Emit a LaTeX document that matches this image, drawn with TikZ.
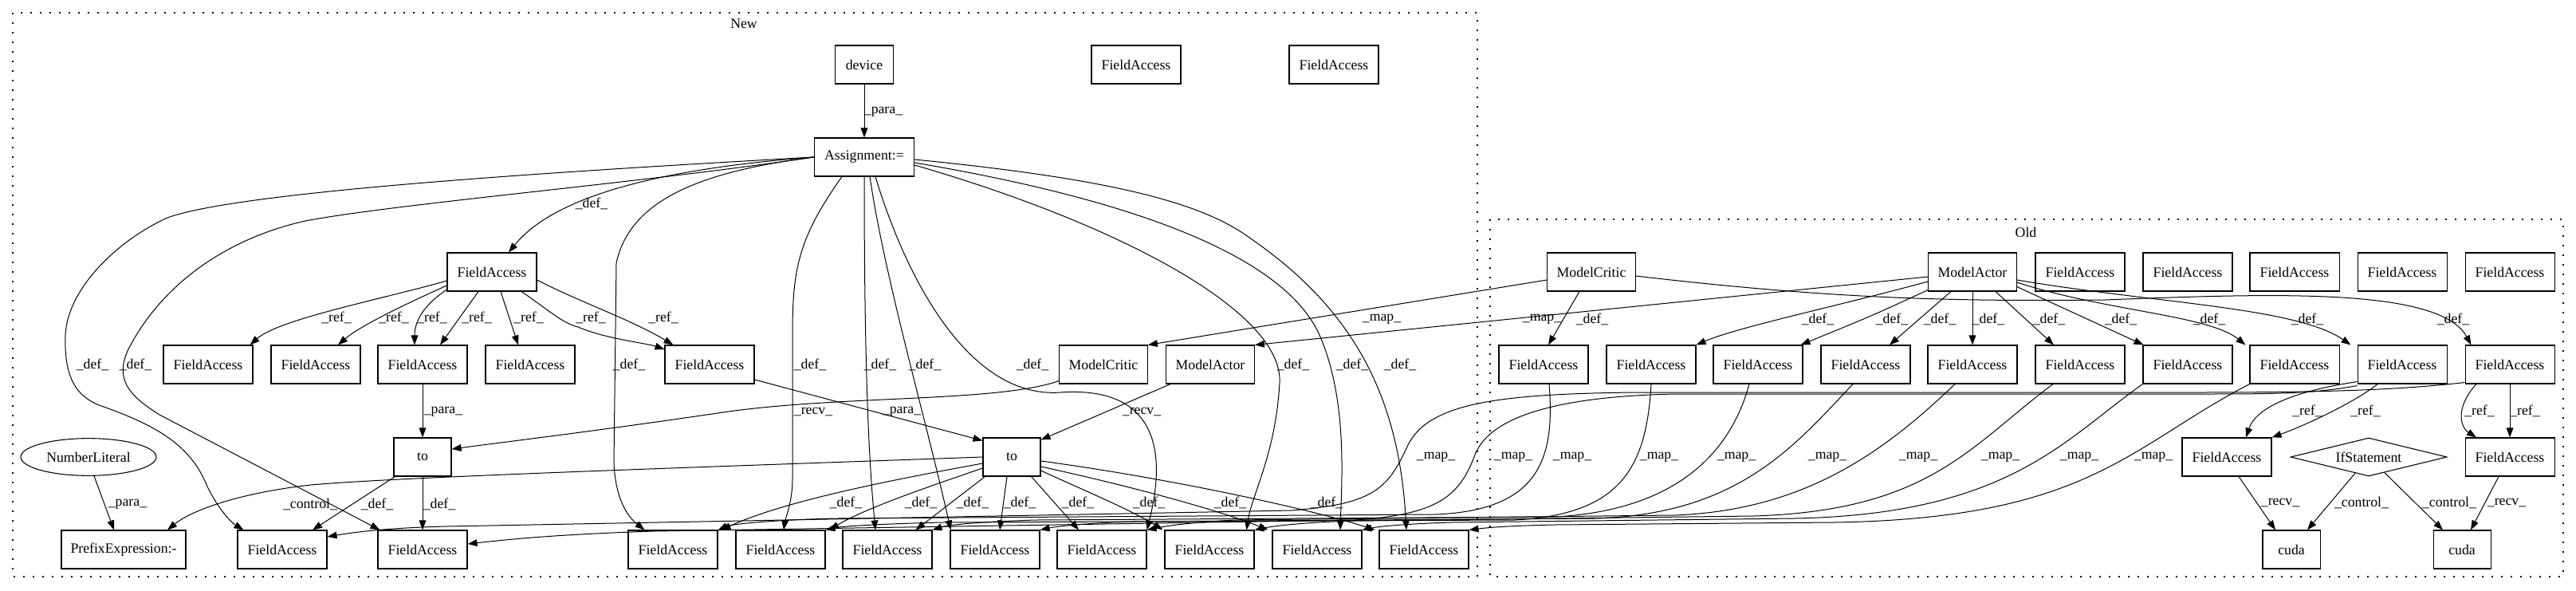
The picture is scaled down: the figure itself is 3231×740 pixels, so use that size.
\documentclass[tikz,border=0pt]{standalone}
\usepackage{fontspec}
\setmainfont{Liberation Serif}
\usetikzlibrary{arrows.meta,calc,shapes.geometric}
\begin{document}
\begin{tikzpicture}[x=0.75pt,y=-0.75pt,
 every node/.style={font=\fontsize{13.3}{15}\selectfont},
 box/.style={draw,line width=0.8pt,rectangle,minimum height=36pt,inner sep=0pt,minimum width=84pt},
 fa/.style={box},
 e/.style={-{Triangle[length=9pt,width=6.5pt]},line width=0.75pt},
 lbl/.style={inner sep=0pt},
 clus/.style={draw,line width=0.9pt,dash pattern=on 1.5pt off 7.5pt}]
\useasboundingbox (0,0) rectangle (3231,740);
% clusters
\draw[clus] (16,16) rectangle (1853,723);
\node[lbl] (newl) at (933,30) {New};
\draw[clus] (1869,275) rectangle (3215,723);
\node[lbl] (oldl) at (2541,291) {Old};
% ---------- New nodes
\node[box,minimum width=55pt] (device) at (1084,81) {device};
\node[fa] (nt1) at (1425,81) {FieldAccess};
\node[fa] (nt2) at (1673,81) {FieldAccess};
\node[box,minimum width=94pt] (asg) at (1084,197) {Assignment:=};
\node[fa] (FAp) at (617,341) {FieldAccess};
\node[fa] (r1) at (261,457) {FieldAccess};
\node[fa] (r2) at (396,457) {FieldAccess};
\node[fa] (r3) at (530,457) {FieldAccess};
\node[fa] (r4) at (665,457) {FieldAccess};
\node[fa] (r5) at (890,457) {FieldAccess};
\node[box,minimum width=83pt] (mcN) at (1384,457) {ModelCritic};
\node[box,minimum width=83pt] (maN) at (1518,457) {ModelActor};
\node[box,minimum width=54pt] (to1) at (530,573) {to};
\node[box,minimum width=54pt] (to2) at (1269,573) {to};
\node[draw,ellipse,line width=0.8pt,minimum width=127.5pt,minimum height=35pt,inner sep=0pt] (numlit) at (111,573) {NumberLiteral};
\node[box,minimum width=117pt] (prefix) at (155,689) {PrefixExpression:-};
\node[fa] (b1) at (354,689) {FieldAccess};
\node[fa] (b2) at (530,689) {FieldAccess};
\node[fa] (b3) at (844,689) {FieldAccess};
\node[fa] (b4) at (979,689) {FieldAccess};
\node[fa] (b5) at (1113,689) {FieldAccess};
\node[fa] (b6) at (1248,689) {FieldAccess};
\node[fa] (b7) at (1382,689) {FieldAccess};
\node[fa] (b8) at (1517,689) {FieldAccess};
\node[fa] (b9) at (1652,689) {FieldAccess};
\node[fa] (b10) at (1786,689) {FieldAccess};
% ---------- Old nodes
\node[box,minimum width=83pt] (mcO) at (1996,341) {ModelCritic};
\node[box,minimum width=83pt] (maO) at (2474,341) {ModelActor};
\node[fa] (ot1) at (2609,341) {FieldAccess};
\node[fa] (ot2) at (2744,341) {FieldAccess};
\node[fa] (ot3) at (2878,341) {FieldAccess};
\node[fa] (ot4) at (3013,341) {FieldAccess};
\node[fa] (ot5) at (3148,341) {FieldAccess};
\node[fa] (o1) at (1936,457) {FieldAccess};
\node[fa] (o2) at (2071,457) {FieldAccess};
\node[fa] (o3) at (2205,457) {FieldAccess};
\node[fa] (o4) at (2340,457) {FieldAccess};
\node[fa] (o5) at (2474,457) {FieldAccess};
\node[fa] (o6) at (2609,457) {FieldAccess};
\node[fa] (o7) at (2744,457) {FieldAccess};
\node[fa] (o8) at (2878,457) {FieldAccess};
\node[fa] (o9) at (3013,457) {FieldAccess};
\node[fa] (o10) at (3148,457) {FieldAccess};
\node[fa] (ofa1) at (2793,573) {FieldAccess};
\node[draw,diamond,aspect=4,line width=0.8pt,minimum width=147pt,minimum height=36pt,inner sep=0pt] (ifs) at (2971,573) {IfStatement};
\node[fa] (ofa2) at (3148,573) {FieldAccess};
\node[box,minimum width=54pt] (cuda1) at (2874,689) {cuda};
\node[box,minimum width=54pt] (cuda2) at (3088,689) {cuda};
% ---------- New edges
\draw[e] (device) -- (asg) node[lbl] at (1108,140) {\_para\_};
\draw[e] (asg.west) .. controls (850,210) and (700,240) .. ($(FAp.north)+(21,0)$) node[lbl] at (742,255) {\_def\_};
\draw[e] (asg.west) .. controls (700,215) and (300,240) .. (210,273) .. controls (150,300) and (85,360) .. (82,420) .. controls (80,480) and (100,500) .. (130,510) .. controls (200,535) and (240,560) .. (260,610) .. controls (275,640) and (290,655) .. ($(b1.north west)+(8,0)$) node[lbl] at (116,457) {\_def\_};
\draw[e] (asg.west) .. controls (800,230) and (500,255) .. (383,277) .. controls (280,300) and (200,360) .. (160,440) .. controls (145,475) and (160,495) .. (200,520) -- ($(b2.north west)+(3,0)$) node[lbl] at (170,457) {\_def\_};
\draw[e] (asg.west) .. controls (880,215) and (790,250) .. (773,330) -- (770,580) .. controls (772,630) and (790,650) .. ($(b3.north west)+(21,0)$) node[lbl] at (789,457) {\_def\_};
\draw[e] ($(asg.south)+(-28,0)$) .. controls (1000,300) and (994,340) .. (994,420) -- (994,600) .. controls (994,630) and (985,650) .. ($(b4.north)+(4,0)$) node[lbl] at (1016,457) {\_def\_};
\draw[e] (asg.south) .. controls (1084,500) and (1092,600) .. ($(b5.north)+(-15,0)$) node[lbl] at (1104,457) {\_def\_};
\draw[e] ($(asg.south)+(7,0)$) .. controls (1110,350) and (1160,520) .. ($(b6.north west)+(1,0)$) node[lbl] at (1160,457) {\_def\_};
\draw[e] ($(asg.south)+(14,0)$) .. controls (1140,360) and (1220,500) .. (1330,492) .. controls (1430,485) and (1470,540) .. (b7.north east) node[lbl] at (1295,457) {\_def\_};
\draw[e] ($(asg.east)+(0,10)$) .. controls (1400,280) and (1610,390) .. (1605,480) .. controls (1600,570) and (1570,620) .. ($(b8.north east)+(-10,0)$) node[lbl] at (1622,457) {\_def\_};
\draw[e] ($(asg.east)+(0,7)$) .. controls (1420,250) and (1610,320) .. (1655,420) .. controls (1690,500) and (1683,600) .. ($(b9.north)+(29,0)$) node[lbl] at (1696,457) {\_def\_};
\draw[e] ($(asg.east)+(0,3)$) .. controls (1400,225) and (1510,255) .. (1570,300) .. controls (1700,390) and (1755,500) .. ($(b10.north)+(-22,0)$) node[lbl] at (1756,457) {\_def\_};
% ref edges
\draw[e] ($(FAp.west)+(0,11)$) .. controls (480,375) and (350,400) .. ($(r1.north east)+(-4,0)$) node[lbl] at (422,398) {\_ref\_};
\draw[e] ($(FAp.west)+(0,17)$) .. controls (500,385) and (450,410) .. ($(r2.north)+(28,0)$) node[lbl] at (494,398) {\_ref\_};
\draw[e] ($(FAp.west)+(0,22)$) .. controls (535,380) and (520,400) .. ($(r3.north)+(-10,0)$) node[lbl] at (542,398) {\_ref\_};
\draw[e] ($(FAp.south)+(-17,0)$) -- ($(r3.north)+(22,0)$) node[lbl] at (598,398) {\_ref\_};
\draw[e] ($(FAp.south)+(11,0)$) -- ($(r4.north)+(-15,0)$) node[lbl] at (663,398) {\_ref\_};
\draw[e] ($(FAp.south)+(37,0)$) .. controls (690,390) and (705,405) .. (725,410) .. controls (760,425) and (810,430) .. ($(r5.west)+(0,-19)$) node[lbl] at (741,398) {\_ref\_};
\draw[e] ($(FAp.east)+(0,10)$) .. controls (730,380) and (790,400) .. ($(r5.north west)+(11,0)$) node[lbl] at (832,398) {\_ref\_};
% para / recv
\draw[e] (r3) -- (to1) node[lbl] at (556,516) {\_para\_};
\draw[e] ($(r5.east)+(0,19)$) -- ($(to2.north west)+(0,4)$) node[lbl] at (1131,516) {\_para\_};
\draw[e] ($(mcN.south west)+(0,-4)$) .. controls (1250,505) and (1050,495) .. (900,518) .. controls (750,540) and (650,552) .. ($(to1.east)+(0,-10)$) node[lbl] at (1020,516) {\_recv\_};
\draw[e] ($(maN.south west)+(6,0)$) -- ($(to2.north east)+(0,3)$) node[lbl] at (1432,516) {\_recv\_};
\draw[e] ($(to1.south west)+(2,0)$) -- ($(b1.north)+(38,0)$) node[lbl] at (473,632) {\_def\_};
\draw[e] (to1) -- (b2) node[lbl] at (551,632) {\_def\_};
\draw[e] (to2.west) .. controls (900,585) and (500,598) .. (390,608) .. controls (300,618) and (240,640) .. ($(prefix.north)+(55,0)$) node[lbl] at (389,632) {\_control\_};
\draw[e] ($(numlit.south)+(7,0)$) -- ($(prefix.north)+(-12,0)$) node[lbl] at (160,632) {\_para\_};
% to2 defs
\draw[e] ($(to2.west)+(0,8)$) .. controls (1100,605) and (980,630) .. ($(b3.north east)+(4,0)$) node[lbl] at (1061,630) {\_def\_};
\draw[e] ($(to2.west)+(0,14)$) .. controls (1150,615) and (1080,640) .. ($(b4.north east)+(5,0)$) node[lbl] at (1155,630) {\_def\_};
\draw[e] ($(to2.south west)+(3,0)$) -- ($(b5.north east)+(-21,0)$) node[lbl] at (1220,630) {\_def\_};
\draw[e] ($(to2.south)+(-6,0)$) -- ($(b6.north)+(6,0)$) node[lbl] at (1279,630) {\_def\_};
\draw[e] ($(to2.south east)+(-12,0)$) -- ($(b7.north)+(-29,0)$) node[lbl] at (1352,630) {\_def\_};
\draw[e] ($(to2.east)+(0,17)$) .. controls (1360,615) and (1420,640) .. ($(b8.north west)+(-2,0)$) node[lbl] at (1441,630) {\_def\_};
\draw[e] ($(to2.east)+(0,12)$) .. controls (1420,610) and (1530,640) .. ($(b9.north west)+(-5,0)$) node[lbl] at (1543,630) {\_def\_};
\draw[e] ($(to2.east)+(0,5)$) .. controls (1470,600) and (1650,640) .. ($(b10.north west)+(-5,0)$) node[lbl] at (1664,630) {\_def\_};
% ---------- Old edges
\draw[e] ($(mcO.south)+(-15,0)$) -- ($(o1.north)+(6,0)$) node[lbl] at (1997,400) {\_def\_};
\draw[e] ($(mcO.west)+(0,10)$) -- (mcN.north east) node[lbl] at (1733,400) {\_map\_};
\draw[e] ($(maO.west)+(0,6)$) -- (maN.north east) node[lbl] at (1934,400) {\_map\_};
\draw[e] ($(maO.west)+(0,12)$) .. controls (2300,385) and (2180,410) .. (o2.north east) node[lbl] at (2280,400) {\_def\_};
\draw[e] ($(maO.south west)+(0,-2)$) .. controls (2350,395) .. ($(o3.north east)+(-3,0)$) node[lbl] at (2373,400) {\_def\_};
\draw[e] ($(maO.south)+(-27,0)$) -- ($(o4.north)+(30,0)$) node[lbl] at (2433,400) {\_def\_};
\draw[e] (maO) -- (o5) node[lbl] at (2494,400) {\_def\_};
\draw[e] ($(maO.south)+(29,0)$) -- ($(o6.north)+(-33,0)$) node[lbl] at (2570,400) {\_def\_};
\draw[e] ($(maO.south east)+(0,-6)$) -- ($(o7.north west)+(1,0)$) node[lbl] at (2660,400) {\_def\_};
\draw[e] ($(maO.east)+(0,13)$) .. controls (2640,390) and (2770,395) .. ($(o8.north west)+(-5,0)$) node[lbl] at (2771,400) {\_def\_};
\draw[e] ($(maO.east)+(0,10)$) .. controls (2700,380) and (2880,385) .. ($(o9.north west)+(-8,0)$) node[lbl] at (2894,400) {\_def\_};
\draw[e] ($(mcO.east)+(0,5)$) .. controls (2300,375) and (2450,378) .. (2640,376) .. controls (2850,368) and (3060,360) .. ($(o10.north west)+(8,0)$) node[lbl] at (3077,400) {\_def\_};
\draw[e] ($(o9.south west)+(0,-3)$) .. controls (2880,490) and (2830,510) .. ($(ofa1.north)+(24,0)$) node[lbl] at (2894,515) {\_ref\_};
\draw[e] ($(o9.south)+(-31,0)$) .. controls (2960,500) and (2900,530) .. (ofa1.north east) node[lbl] at (2967,515) {\_ref\_};
\draw[e] ($(o10.south)+(-42,0)$) .. controls (3080,510) and (3085,535) .. ($(ofa2.north)+(-42,0)$) node[lbl] at (3110,515) {\_ref\_};
\draw[e] (o10) -- (ofa2) node[lbl] at (3167,515) {\_ref\_};
\draw[e] ($(ofa1.south)+(15,0)$) -- ($(cuda1.north)+(-20,0)$) node[lbl] at (2860,630) {\_recv\_};
\draw[e] (ifs) -- ($(cuda1.north)+(20,0)$) node[lbl] at (2962,630) {\_control\_};
\draw[e] (ifs) -- ($(cuda2.north)+(-24,0)$) node[lbl] at (3072,630) {\_control\_};
\draw[e] ($(ofa2.south)+(-14,0)$) -- ($(cuda2.north)+(11,0)$) node[lbl] at (3144,630) {\_recv\_};
% map edges old -> new
\draw[e] ($(o10.south west)+(0,-2)$) .. controls (3000,490) and (2900,492) .. (2750,492) -- (2050,492) .. controls (1880,494) and (1790,505) .. (1765,560) .. controls (1740,615) and (1720,632) .. (1620,640) -- (560,660) .. controls (480,662) and (440,668) .. ($(b1.east)+(0,-16)$) node[lbl] at (1801,573) {\_map\_};
\draw[e] ($(o9.south west)+(0,2)$) .. controls (2900,494) and (2850,494) .. (2750,494) -- (2100,494) .. controls (1960,497) and (1870,520) .. (1850,570) .. controls (1830,625) and (1800,645) .. (1700,652) -- (820,666) .. controls (700,670) and (640,676) .. ($(b2.east)+(0,-7)$) node[lbl] at (1898,573) {\_map\_};
\draw[e] ($(o1.south)+(7,0)$) .. controls (1950,570) and (1935,640) .. (1800,645) -- (1050,650) .. controls (960,652) and (915,658) .. (b3.north east) node[lbl] at (1972,573) {\_map\_};
\draw[e] (o2.south) .. controls (2065,590) and (2030,645) .. (1900,652) -- (1180,655) .. controls (1100,657) and (1055,660) .. (b4.north east) node[lbl] at (2081,573) {\_map\_};
\draw[e] ($(o3.south)+(-11,0)$) .. controls (2170,570) and (2100,640) .. (1950,648) -- (1300,652) .. controls (1230,654) and (1190,658) .. (b5.north east) node[lbl] at (2178,573) {\_map\_};
\draw[e] ($(o4.south)+(-16,0)$) .. controls (2250,560) and (2180,645) .. (2000,650) -- (1420,654) .. controls (1360,656) and (1325,660) .. (b6.north east) node[lbl] at (2292,573) {\_map\_};
\draw[e] ($(o5.south)+(-22,0)$) .. controls (2360,570) and (2260,640) .. (2100,646) -- (1550,652) .. controls (1490,655) and (1460,660) .. (b7.north east) node[lbl] at (2406,573) {\_map\_};
\draw[e] ($(o6.south)+(-34,0)$) .. controls (2470,560) and (2420,640) .. (2200,647) -- (1700,653) .. controls (1630,655) and (1595,660) .. (b8.north east) node[lbl] at (2509,573) {\_map\_};
\draw[e] (o7.south west) .. controls (2590,550) and (2520,645) .. (2250,650) -- (1820,655) .. controls (1760,657) and (1730,660) .. (b9.north east) node[lbl] at (2608,573) {\_map\_};
\draw[e] (o8.south west) .. controls (2670,560) and (2620,650) .. (2300,655) -- (1950,658) .. controls (1900,659) and (1870,661) .. (b10.north east) node[lbl] at (2701,573) {\_map\_};
\end{tikzpicture}
\end{document}
